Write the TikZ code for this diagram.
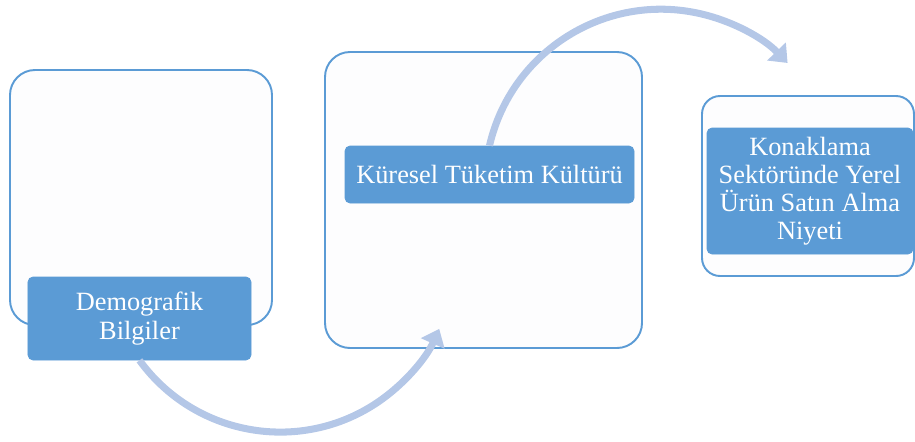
\documentclass[tikz,border=0pt]{standalone}
\usepackage{fontspec}
\setmainfont{Liberation Serif}
\usetikzlibrary{arrows.meta, positioning}

\definecolor{accent}{HTML}{5B9BD5}
\definecolor{arrowblue}{HTML}{B4C7E7}
\definecolor{boxfill}{HTML}{FDFDFE}

\begin{document}
\begin{tikzpicture}[
    % Styles for each node type
    outerbox/.style={rectangle, draw=accent, line width=1.1pt, fill=boxfill, rounded corners=0.5cm},
    labelbox/.style={rectangle, draw=accent, fill=accent, rounded corners=0.1cm, align=center, text=white, font=\fontsize{15}{16}\selectfont, inner sep=0pt},
    flowarrow/.style={line width=4pt, draw=arrowblue, -{Triangle[length=0.32cm, width=0.5cm]}}
]

\useasboundingbox (0,0) rectangle (18.3,8.82);

% Outer frames
\node[outerbox, minimum width=5.24cm, minimum height=5.1cm] (frame1) at (2.82,4.87) {};
\node[outerbox, minimum width=6.34cm, minimum height=5.92cm] (frame2) at (9.67,4.82) {};
\node[outerbox, minimum width=4.24cm, minimum height=3.6cm, rounded corners=0.36cm] (frame3) at (16.16,5.1) {};

% Text labels on the frames
\node[labelbox, minimum width=4.46cm, minimum height=1.66cm] (demo) at (2.79,2.45) {Demografik\\Bilgiler};
\node[labelbox, minimum width=5.78cm, minimum height=1.14cm] (kultur) at (9.79,5.33) {Küresel Tüketim Kültürü};
\node[labelbox, minimum width=4.12cm, minimum height=2.52cm] (niyet) at (16.2,5.0) {Konaklama\\Sektöründe Yerel\\Ürün Satın Alma\\Niyeti};

% Curved arrows between the steps
\draw[flowarrow] (demo.south) arc[start angle=216, end angle=336, radius=3.48];
\draw[flowarrow] (kultur.north) arc[start angle=167, end angle=44, radius=3.52];

\end{tikzpicture}
\end{document}
